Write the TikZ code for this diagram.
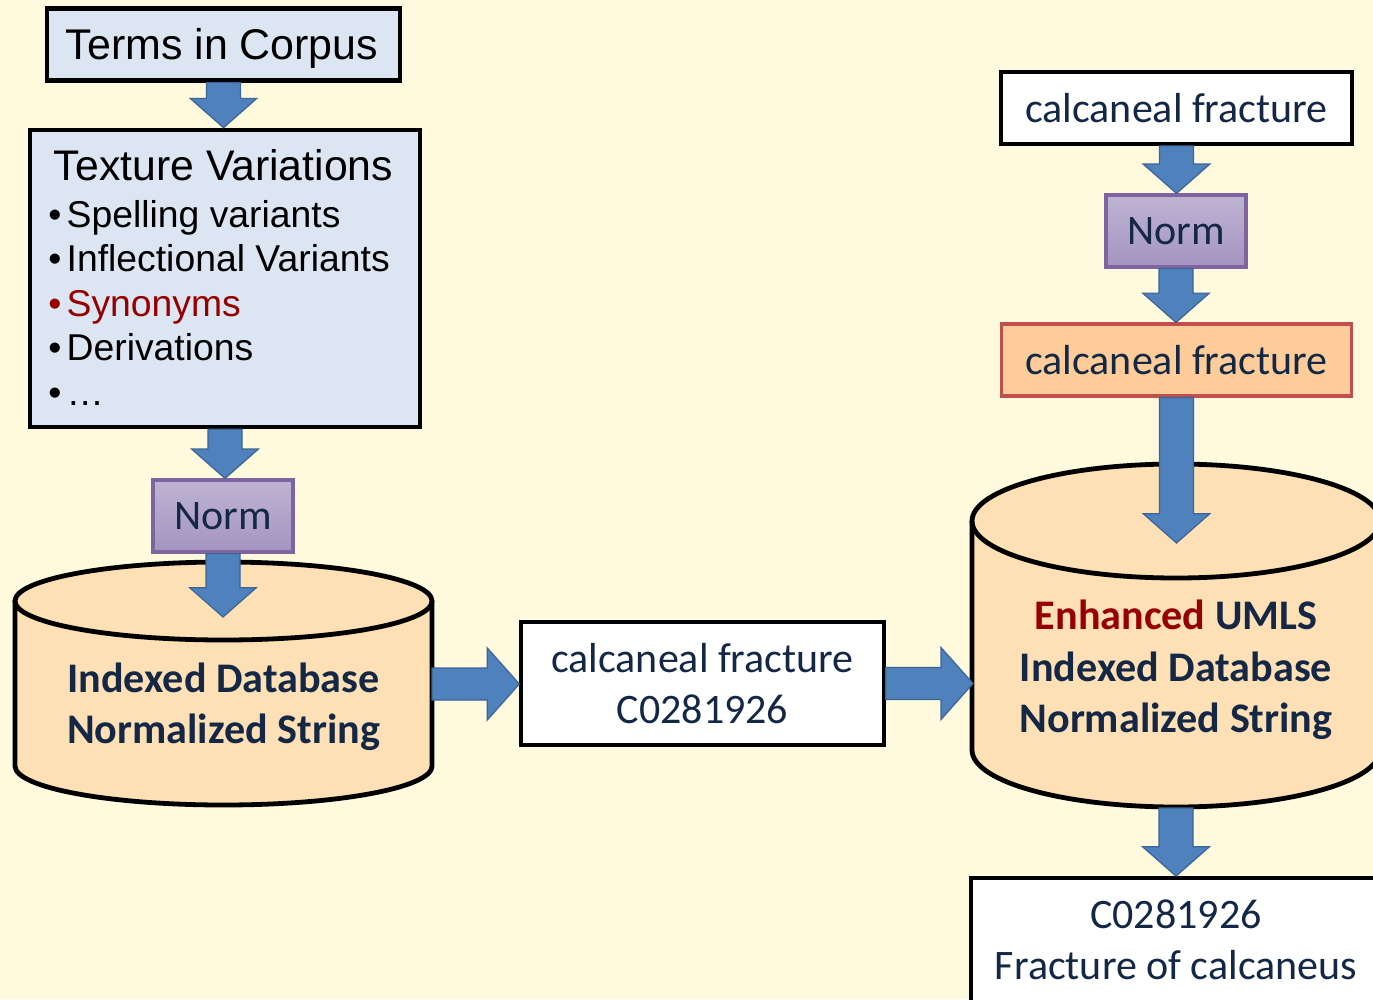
\documentclass[tikz,border=0pt]{standalone}
\usepackage{fontspec}
\setmainfont{Carlito}
\newfontfamily\arialf{Liberation Sans}
\usetikzlibrary{calc}
\definecolor{bg}{RGB}{255,249,221}
\definecolor{lblue}{RGB}{220,230,242}
\definecolor{navy}{RGB}{20,40,70}
\definecolor{dred}{RGB}{150,0,0}
\definecolor{cylfill}{RGB}{254,224,182}
\definecolor{orfill}{RGB}{253,204,153}
\definecolor{orline}{RGB}{192,80,77}
\definecolor{ptop}{RGB}{190,180,210}
\definecolor{pbot}{RGB}{164,148,192}
\definecolor{pline}{RGB}{128,100,162}
\definecolor{arfill}{RGB}{79,129,189}
\definecolor{arline}{RGB}{60,100,148}
\tikzset{
  blk/.style={fill=arfill,draw=arline,line width=0.9pt,line join=miter},
  blackbox/.style={draw=black,line width=3.2pt,inner sep=0pt},
  whitebox/.style={draw=black,fill=white,line width=2.8pt,inner sep=0pt,align=center,text=navy,
     font=\fontsize{31.5}{38}\selectfont},
  normbox/.style={draw=pline,top color=ptop,bottom color=pbot,line width=2.4pt,inner sep=0pt,
     minimum width=105pt,minimum height=54pt,text=navy,font=\fontsize{31.5}{36}\selectfont},
  bul/.style={anchor=base west,inner sep=0pt,font=\arialf\fontsize{28}{32}\selectfont},
  cylline/.style={draw=black,line width=3.6pt},
  cyltext/.style={align=center,text=navy,inner sep=0pt,font=\bfseries\fontsize{31.6}{38.5}\selectfont}
}
% vertical block arrow: #1 start, #2 tip
\newcommand\blkdown[2]{%
  \path[blk] let \p1=(#1), \p2=(#2) in
    (\x1-12.75pt,\y1) -- (\x1-12.75pt,\y2+22pt) -- (\x1-25pt,\y2+22pt) -- (\x1,\y2)
    -- (\x1+25pt,\y2+22pt) -- (\x1+12.75pt,\y2+22pt) -- (\x1+12.75pt,\y1) -- cycle;}
% horizontal block arrow: #1 start, #2 tip
\newcommand\blkright[2]{%
  \path[blk] let \p1=(#1), \p2=(#2) in
    (\x1,\y1+12pt) -- (\x2-24pt,\y1+12pt) -- (\x2-24pt,\y1+27pt) -- (\x2,\y1)
    -- (\x2-24pt,\y1-27pt) -- (\x2-24pt,\y1-12pt) -- (\x1,\y1-12pt) -- cycle;}
\begin{document}
\begin{tikzpicture}[x=0.75pt,y=-0.75pt]
\useasboundingbox (0,0) rectangle (1373,999);
\fill[bg] (0,0) rectangle (1373,999);

% ---------- left column ----------
\node[blackbox,fill=lblue,minimum width=265pt,minimum height=54pt] (terms) at (223.5,44.5) {};
\node[anchor=base,inner sep=0pt,font=\arialf\fontsize{32.2}{36}\selectfont] (termstxt) at (222,60) {Terms in Corpus};

\node[blackbox,fill=lblue,minimum width=293pt,minimum height=223pt] (texture) at (225,278.5) {};
\node[anchor=base,inner sep=0pt,font=\arialf\fontsize{32.1}{36}\selectfont] (textitle) at (223.5,180) {Texture Variations};
\node[bul] (b1) at (48,227) {\makebox[13.8pt][l]{•}Spelling variants};
\node[bul] (b2) at (48,271) {\makebox[13.8pt][l]{•}Inflectional Variants};
\node[bul,text=dred] (b3) at (48,316) {\makebox[13.8pt][l]{•}Synonyms};
\node[bul] (b4) at (48,360) {\makebox[13.8pt][l]{•}Derivations};
\node[bul] (b5) at (48,405) {\makebox[13.8pt][l]{•}…};

\node[normbox] (normL) at (223,516) {Norm};

% left cylinder
\fill[cylfill] (15,601) -- (15,766) arc[start angle=180,end angle=360,x radius=156.4pt,y radius=29.25pt]
  -- (432,601) arc[start angle=0,end angle=180,x radius=156.4pt,y radius=29.25pt] -- cycle;
\draw[cylline] (15,601) -- (15,766) arc[start angle=180,end angle=360,x radius=156.4pt,y radius=29.25pt] -- (432,601);
\draw[cylline] (223.5,601) ellipse[x radius=156.4pt,y radius=29.25pt];
\node[cyltext] (cylLtxt) at (223.5,706.5) {Indexed Database\\Normalized String};
\coordinate (cylLin) at (223,617);
\coordinate (cylLout) at (432,684);

\blkdown{terms.south}{texture.north}
\blkdown{texture.south}{normL.north}
\blkdown{normL.south}{cylLin}

% ---------- middle ----------
\node[whitebox,minimum width=272pt,minimum height=92pt] (mid) at (702.5,683.5) {calcaneal fracture\\C0281926};
\blkright{cylLout}{mid.west}

% ---------- right column ----------
\node[whitebox,minimum width=263pt,minimum height=54pt] (topR) at (1176.5,108) {calcaneal fracture};
\node[normbox] (normR) at (1176,231) {Norm};
\node[whitebox,draw=orline,fill=orfill,line width=2.3pt,minimum width=263pt,minimum height=54pt] (orR) at (1176.5,360) {calcaneal fracture};

% right cylinder
\fill[cylfill] (972,521) -- (972,750) arc[start angle=180,end angle=360,x radius=153pt,y radius=42.75pt]
  -- (1380,521) arc[start angle=0,end angle=180,x radius=153pt,y radius=42.75pt] -- cycle;
\draw[cylline] (972,521) -- (972,750) arc[start angle=180,end angle=360,x radius=153pt,y radius=42.75pt] -- (1380,521);
\draw[cylline] (1176,521) ellipse[x radius=153pt,y radius=42.75pt];
\node[cyltext] (cylRtxt) at (1176,670) {\textcolor{dred}{Enhanced} UMLS\\Indexed Database\\Normalized String};
\coordinate (cylRin) at (973,684);
\coordinate (cylRtop) at (1176,543);
\coordinate (cylRbot) at (1176,808);

\node[whitebox,minimum width=307pt,minimum height=93pt] (botR) at (1176,940) {C0281926\\Fracture of calcaneus};

\blkright{mid.east}{cylRin}
\blkdown{topR.south}{normR.north}
\blkdown{normR.south}{orR.north}
\blkdown{orR.south}{cylRtop}
\blkdown{cylRbot}{botR.north}
\end{tikzpicture}
\end{document}
